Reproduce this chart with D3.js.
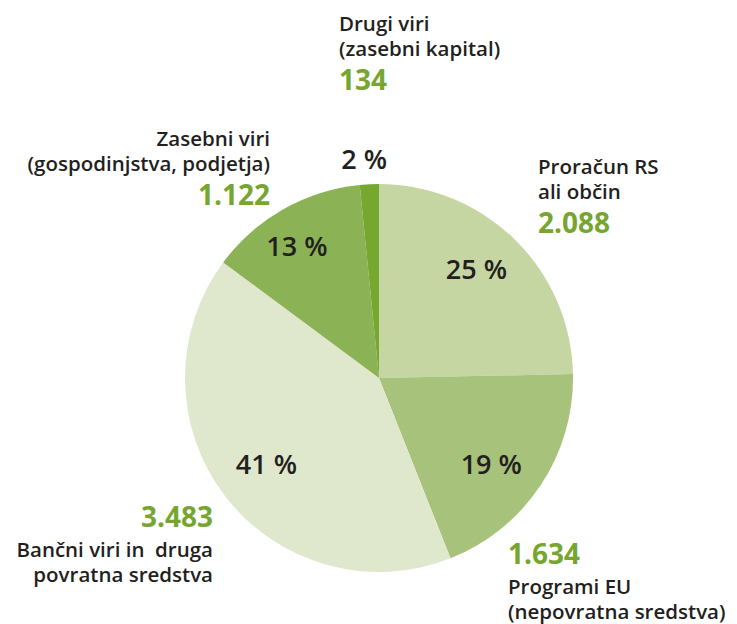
<!DOCTYPE html>
<html lang="sl">
<head>
<meta charset="utf-8">
<title>Viri financiranja</title>
<script src="https://d3js.org/d3.v7.min.js"></script>
<style>
  body { margin: 0; background: #fff; }
  svg text { font-family: "Open Sans", "Noto Sans", sans-serif; white-space: pre; }
  .name { font-size: 20.5px; fill: #231f20; font-weight: 600; }
  .val { font-size: 28px; fill: #76a630; font-weight: 700; }
  .pct { font-size: 27px; fill: #231f20; font-weight: 600; }
</style>
</head>
<body>
<script>
// data, clockwise from top
const names = [
  ["Proračun RS", "ali občin"],
  ["Programi EU", "(nepovratna sredstva)"],
  ["Bančni viri in  druga", "povratna sredstva"],
  ["Zasebni viri", "(gospodinjstva, podjetja)"],
  ["Drugi viri", "(zasebni kapital)"]
];
const values = [2088, 1634, 3483, 1122, 134];
const valueLabels = ["2.088", "1.634", "3.483", "1.122", "134"];
const pctLabels = ["25 %", "19 %", "41 %", "13 %", "2 %"];
const colors = ["#c5d6a3", "#a7c27a", "#dfe8cd", "#8cb256", "#76a72f"];

const W = 737, H = 624;
const cx = 379, cy = 378, R = 194;

const svg = d3.select("body").append("svg")
  .attr("width", W).attr("height", H);

const pie = d3.pie().sort(null).value(d => d)(values);
const arc = d3.arc().innerRadius(0).outerRadius(R);
const labelArc = d3.arc().innerRadius(142).outerRadius(142);
const outArc = d3.arc().innerRadius(216).outerRadius(216);

const g = svg.append("g").attr("transform", `translate(${cx},${cy})`);

g.selectAll("path")
  .data(pie)
  .enter().append("path")
  .attr("d", arc)
  .attr("fill", (d, i) => colors[i]);

// percentage labels (the tiny slice gets its label outside)
g.selectAll("text.pct")
  .data(pie)
  .enter().append("text")
  .attr("class", "pct")
  .attr("text-anchor", "middle")
  .attr("dy", "0.36em")
  .attr("transform", (d, i) => {
    const p = i === 4 ? outArc.centroid(d) : labelArc.centroid(d);
    if (i === 3) { p[0] -= 12; p[1] -= 8; }
    if (i === 1) { p[0] -= 6; p[1] += 8; }
    if (i === 0) { p[0] -= 2; p[1] -= 7; }
    if (i === 4) { p[0] -= 4; p[1] -= 3; }
    return `translate(${p})`;
  })
  .text((d, i) => pctLabels[i]);

// outer name + value blocks
const blocks = [
  { x: 538, anchor: "start", y: 174, valueFirst: false },
  { x: 508, anchor: "start", y: 564, valueFirst: true },
  { x: 213, anchor: "end", y: 527, valueFirst: true },
  { x: 270, anchor: "end", y: 146, valueFirst: false },
  { x: 339, anchor: "start", y: 31, valueFirst: false }
];

function nameText(parent, b, lines, y) {
  const t = parent.append("text").attr("class", "name")
    .attr("text-anchor", b.anchor).attr("x", b.x).attr("y", y);
  lines.forEach((line, k) => {
    t.append("tspan").attr("x", b.x).attr("dy", k === 0 ? 0 : 25).text(line);
  });
}

blocks.forEach((b, i) => {
  const t = svg.append("g");
  if (b.valueFirst) {
    t.append("text").attr("class", "val").attr("x", b.x).attr("y", b.y)
      .attr("text-anchor", b.anchor).text(valueLabels[i]);
    nameText(t, b, names[i], b.y + 30);
  } else {
    nameText(t, b, names[i], b.y);
    t.append("text").attr("class", "val").attr("x", b.x).attr("y", b.y + 59)
      .attr("text-anchor", b.anchor).text(valueLabels[i]);
  }
});
</script>
</body>
</html>
